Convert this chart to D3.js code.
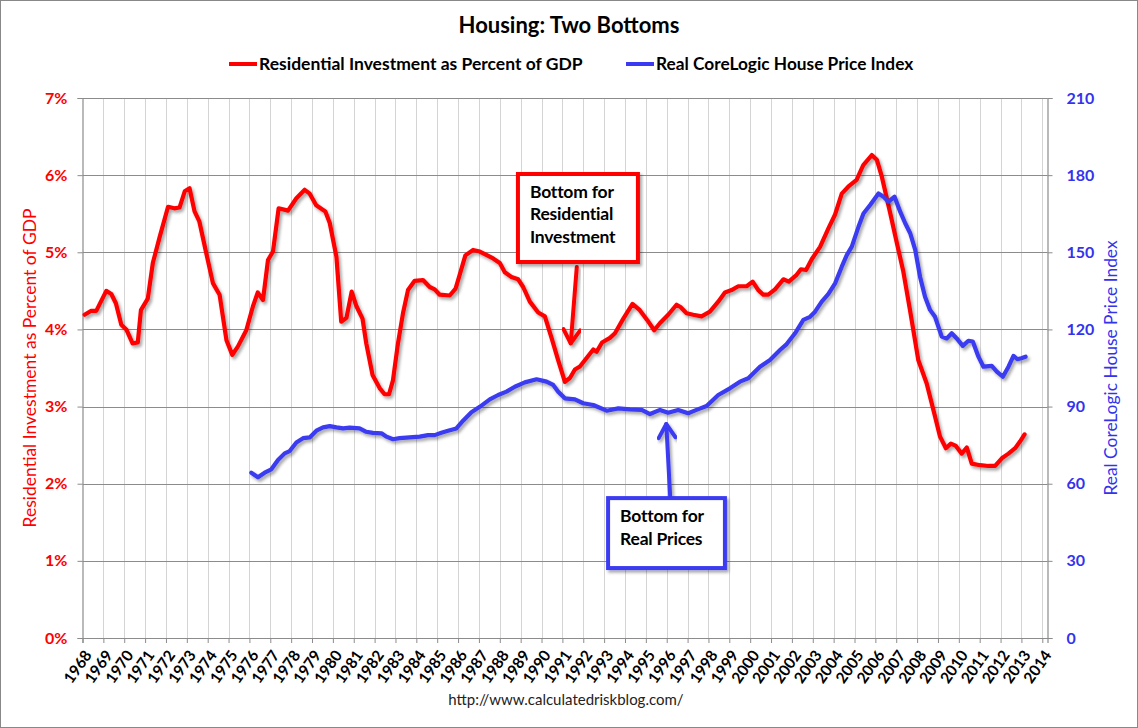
<!DOCTYPE html>
<html>
<head>
<meta charset="utf-8">
<script src="https://cdn.jsdelivr.net/npm/d3@7"></script>
<style>
  html, body { margin: 0; padding: 0; background: #fff; }
  svg { display: block; }
  text { font-family: Lato, "Open Sans", "Liberation Sans", sans-serif; }
</style>
</head>
<body>
<script>
// ---------------- DATA ----------------
const title = "Housing: Two Bottoms";
const seriesNames = ["Residential Investment as Percent of GDP", "Real CoreLogic House Price Index"];
const leftAxisTitle = "Residential Investment as Percent of GDP";
const rightAxisTitle = "Real CoreLogic House Price Index";
const sourceText = "http://www.calculatedriskblog.com/";

const yearTicks = d3.range(1968, 2015);
const leftTicks = [0, 1, 2, 3, 4, 5, 6, 7];
const rightTicks = [0, 30, 60, 90, 120, 150, 180, 210];

// Residential investment, % of GDP
const riYears = [1968.1,1968.4,1968.66,1969.14,1969.38,1969.6,1969.86,1970.1,1970.4,1970.65,1970.8,1971.13,1971.37,1971.7,1972.1,1972.4,1972.65,1972.9,1973.13,1973.37,1973.6,1973.93,1974.25,1974.57,1974.9,1975.18,1975.45,1975.85,1976.17,1976.4,1976.65,1976.89,1977.13,1977.4,1977.85,1978.25,1978.65,1978.89,1979.2,1979.64,1979.85,1980.17,1980.4,1980.65,1980.9,1981.13,1981.42,1981.6,1981.9,1982.24,1982.48,1982.69,1982.88,1983.12,1983.36,1983.6,1983.92,1984.32,1984.64,1984.88,1985.12,1985.6,1985.88,1986.08,1986.35,1986.72,1987.04,1987.4,1987.68,1988.0,1988.24,1988.56,1988.88,1989.12,1989.44,1989.84,1990.16,1990.48,1990.8,1991.12,1991.36,1991.6,1991.84,1992.16,1992.48,1992.64,1992.9,1993.28,1993.52,1993.92,1994.36,1994.71,1995.07,1995.4,1995.67,1996.07,1996.47,1996.66,1996.95,1997.27,1997.67,1998.07,1998.47,1998.79,1999.11,1999.43,1999.83,2000.12,2000.39,2000.63,2000.87,2001.19,2001.59,2001.85,2002.2,2002.43,2002.68,2002.95,2003.35,2003.75,2004.07,2004.39,2004.7,2005.1,2005.42,2005.83,2006.07,2006.31,2006.71,2007.03,2007.34,2007.66,2008.06,2008.46,2008.86,2009.1,2009.38,2009.62,2009.86,2010.14,2010.38,2010.62,2011.02,2011.42,2011.74,2012.06,2012.38,2012.7,2012.94,2013.15];
const riValues = [4.19,4.24,4.24,4.50,4.46,4.34,4.06,4.00,3.82,3.83,4.25,4.40,4.86,5.20,5.59,5.57,5.58,5.79,5.83,5.53,5.40,4.99,4.60,4.45,3.86,3.67,3.78,3.99,4.30,4.48,4.38,4.90,5.01,5.57,5.54,5.70,5.81,5.76,5.61,5.53,5.38,4.94,4.10,4.15,4.49,4.30,4.14,3.82,3.41,3.24,3.16,3.16,3.34,3.82,4.21,4.51,4.63,4.64,4.55,4.52,4.45,4.44,4.53,4.71,4.96,5.03,5.01,4.96,4.92,4.86,4.74,4.68,4.65,4.55,4.36,4.22,4.17,3.89,3.60,3.32,3.37,3.48,3.52,3.63,3.74,3.71,3.83,3.89,3.95,4.14,4.33,4.25,4.12,3.99,4.08,4.19,4.32,4.29,4.21,4.19,4.17,4.23,4.36,4.48,4.51,4.56,4.56,4.62,4.51,4.45,4.45,4.52,4.65,4.62,4.70,4.78,4.77,4.91,5.07,5.31,5.49,5.76,5.85,5.94,6.13,6.26,6.20,5.98,5.51,5.12,4.75,4.25,3.60,3.30,2.87,2.61,2.46,2.52,2.49,2.39,2.47,2.26,2.24,2.23,2.23,2.33,2.39,2.46,2.55,2.64];

// Real CoreLogic house price index
const hpYears = [1976.09,1976.41,1976.73,1977.05,1977.37,1977.69,1977.93,1978.25,1978.57,1978.89,1979.21,1979.53,1979.85,1980.17,1980.49,1980.8,1981.28,1981.6,1981.92,1982.33,1982.57,1982.88,1983.2,1983.68,1984.16,1984.56,1984.88,1985.2,1985.52,1985.92,1986.24,1986.64,1987.04,1987.52,1987.92,1988.32,1988.72,1989.2,1989.76,1990.24,1990.56,1990.8,1991.12,1991.6,1992.0,1992.48,1993.12,1993.68,1994.24,1994.8,1995.2,1995.68,1996.07,1996.55,1997.03,1997.43,1997.91,1998.47,1999.03,1999.51,1999.91,2000.47,2000.95,2001.43,2001.75,2002.15,2002.55,2002.87,2003.11,2003.43,2003.75,2004.07,2004.39,2004.63,2004.87,2005.19,2005.43,2005.75,2006.15,2006.39,2006.63,2006.92,2007.19,2007.43,2007.67,2007.91,2008.14,2008.38,2008.62,2008.86,2009.18,2009.42,2009.66,2009.9,2010.19,2010.46,2010.67,2010.94,2011.18,2011.58,2011.82,2012.11,2012.38,2012.62,2012.81,2012.99,2013.2];
const hpValues = [64.3,62.5,64.3,65.6,69.2,71.8,72.7,76.0,77.7,78.0,80.6,81.9,82.4,81.9,81.5,81.8,81.5,80.2,79.8,79.6,78.3,77.3,77.7,78.0,78.3,78.9,78.9,79.8,80.6,81.5,84.5,87.8,89.9,92.8,94.5,95.8,97.7,99.4,100.6,99.7,98.4,95.8,93.2,92.8,91.3,90.6,88.4,89.3,88.9,88.7,87.1,88.7,87.6,88.7,87.4,88.7,90.2,94.5,97.1,99.7,101.0,105.5,108.1,112.0,114.3,118.5,123.7,124.9,126.9,130.8,133.8,137.9,144.4,148.9,152.2,159.9,165.1,168.4,172.9,171.6,169.7,171.6,165.8,161.3,157.4,150.9,140.5,132.7,127.6,124.9,117.2,116.5,118.5,116.5,113.6,115.6,115.3,109.4,105.5,105.8,103.6,101.6,105.5,109.7,108.4,108.8,109.4];

// Annotations (in data coordinates)
const annoLabels = [["Bottom for", "Residential", "Investment"], ["Bottom for", "Real Prices"]];
const annoBoxX = [[1988.87, 1994.62], [1993.19, 1998.79]];
const annoBoxY = [[6.015, 4.874], [54.4, 27.2]];        // left axis units for first, right axis for second
const annoArrowX = [[1991.69, 1991.40], [1996.17, 1995.98]];
const annoArrowY = [[4.81, 3.82], [54.4, 83.2]];

// ---------------- CHART ----------------
const W = 1138, H = 728;
const RED = "#ff0000", BLUE = "#3a3af2", BLUE_TXT = "#3333ee";
const L = 82.5, R = 1047.5, T = 98, B = 638;

const svg = d3.select("body").append("svg").attr("width", W).attr("height", H);

const defs = svg.append("defs");
const f = defs.append("filter").attr("id", "shadow").attr("x", "-5%").attr("y", "-5%").attr("width", "110%").attr("height", "115%");
f.append("feDropShadow").attr("dx", 2).attr("dy", 2.5).attr("stdDeviation", 1.5)
  .attr("flood-color", "#000").attr("flood-opacity", 0.35);

svg.append("rect").attr("x", 0.5).attr("y", 0.5).attr("width", W - 1).attr("height", H - 1)
  .attr("fill", "#fff").attr("stroke", "#888").attr("stroke-width", 1);

const x = d3.scaleLinear().domain([1968, 2014.25]).range([L, R]);
const yL = d3.scaleLinear().domain([0, 7]).range([B, T]);
const yR = d3.scaleLinear().domain([0, 210]).range([B, T]);

// vertical gridlines
svg.append("g").selectAll("line").data(yearTicks.slice(1)).join("line")
  .attr("x1", d => Math.round(x(d)) + 0.5).attr("x2", d => Math.round(x(d)) + 0.5)
  .attr("y1", T).attr("y2", B)
  .attr("stroke", "#d4d4d4").attr("stroke-width", 1);

// horizontal gridlines
svg.append("g").selectAll("line").data(leftTicks.slice(1)).join("line")
  .attr("x1", L).attr("x2", R)
  .attr("y1", d => Math.round(yL(d)) + 0.5).attr("y2", d => Math.round(yL(d)) + 0.5)
  .attr("stroke", "#8c8c8c").attr("stroke-width", 1);

// axes
const axL = svg.append("g").attr("transform", `translate(${L},0)`)
  .call(d3.axisLeft(yL).tickValues(leftTicks).tickSize(5).tickPadding(10).tickFormat(d => d + "%"));
const axR = svg.append("g").attr("transform", `translate(${R},0)`)
  .call(d3.axisRight(yR).tickValues(rightTicks).tickSize(5).tickPadding(14).tickFormat(d3.format("d")));
const axB = svg.append("g").attr("transform", `translate(0,${B})`)
  .call(d3.axisBottom(x).tickValues(yearTicks).tickSize(5).tickFormat(d3.format("d")));

[axL, axR, axB].forEach(a => {
  a.select(".domain").attr("stroke", "#8c8c8c").attr("stroke-width", 1.2);
  a.selectAll(".tick line").attr("stroke", "#8c8c8c");
});
axL.selectAll("text").attr("fill", RED).attr("font-size", 16).attr("font-weight", 700)
  .attr("font-family", "Lato, sans-serif");
axR.selectAll("text").attr("fill", BLUE_TXT).attr("font-size", 16).attr("font-weight", 700)
  .attr("font-family", "Lato, sans-serif");
axB.selectAll("text").attr("fill", "#000").attr("font-size", 15.5).attr("font-weight", 700)
  .attr("font-family", "Lato, sans-serif")
  .attr("text-anchor", "end")
  .attr("dy", "0.35em")
  .attr("transform", "translate(5,14) rotate(-55)")
  .attr("y", 0).attr("x", 0);

// lines
const lineL = d3.line().x(d => x(d[0])).y(d => yL(d[1])).curve(d3.curveLinear);
const lineR = d3.line().x(d => x(d[0])).y(d => yR(d[1])).curve(d3.curveLinear);
const riData = riYears.map((yr, i) => [yr, riValues[i]]);
const hpData = hpYears.map((yr, i) => [yr, hpValues[i]]);

svg.append("path").datum(riData).attr("d", lineL)
  .attr("fill", "none").attr("stroke", RED).attr("stroke-width", 4.2)
  .attr("stroke-linejoin", "round").attr("stroke-linecap", "round")
  .attr("filter", "url(#shadow)");
svg.append("path").datum(hpData).attr("d", lineR)
  .attr("fill", "none").attr("stroke", BLUE).attr("stroke-width", 4.2)
  .attr("stroke-linejoin", "round").attr("stroke-linecap", "round")
  .attr("filter", "url(#shadow)");

// annotations
const annoColors = [RED, BLUE];
const annoScales = [yL, yR];
annoLabels.forEach((lines, i) => {
  const ys = annoScales[i];
  const c = annoColors[i];
  const g = svg.append("g");
  const x0 = x(annoBoxX[i][0]), x1 = x(annoBoxX[i][1]);
  const y0 = ys(annoBoxY[i][0]), y1 = ys(annoBoxY[i][1]);
  // arrow
  const ax0 = x(annoArrowX[i][0]), ay0 = ys(annoArrowY[i][0]);
  const ax1 = x(annoArrowX[i][1]), ay1 = ys(annoArrowY[i][1]);
  const ang = Math.atan2(ay1 - ay0, ax1 - ax0);
  const hl = 16, ha = 0.55;
  const p1 = [ax1 - hl * Math.cos(ang - ha), ay1 - hl * Math.sin(ang - ha)];
  const p2 = [ax1 - hl * Math.cos(ang + ha), ay1 - hl * Math.sin(ang + ha)];
  const ag = g.append("g").attr("filter", "url(#shadow)");
  ag.append("line").attr("x1", ax0).attr("y1", ay0).attr("x2", ax1).attr("y2", ay1)
    .attr("stroke", c).attr("stroke-width", 4).attr("stroke-linecap", "round");
  ag.append("path").attr("d", `M${p1[0]},${p1[1]} L${ax1},${ay1} L${p2[0]},${p2[1]}`)
    .attr("fill", "none").attr("stroke", c).attr("stroke-width", 4)
    .attr("stroke-linecap", "round").attr("stroke-linejoin", "round");
  // box
  g.append("rect").attr("x", x0).attr("y", y0).attr("width", x1 - x0).attr("height", y1 - y0)
    .attr("fill", "#fff").attr("stroke", c).attr("stroke-width", 4)
    .attr("filter", "url(#shadow)");
  lines.forEach((t, j) => {
    g.append("text").attr("x", x0 + 12).attr("y", y0 + 24 + j * 22.5)
      .attr("font-size", 17.5).attr("font-weight", 700).attr("fill", "#000")
      .attr("font-family", "'Open Sans', sans-serif")
      .attr("letter-spacing", -0.2)
      .text(t);
  });
});

// title
svg.append("text").attr("x", 569).attr("y", 33).attr("text-anchor", "middle")
  .attr("font-size", 22).attr("font-weight", 700).attr("fill", "#000").text(title);

// legend
const legColors = [RED, BLUE];
const legX = [229, 626];
const legFont = [17.5, 17.3];
seriesNames.forEach((n, i) => {
  const g = svg.append("g").attr("transform", `translate(${legX[i]},64)`);
  g.append("line").attr("x1", 0).attr("x2", 28).attr("y1", 0).attr("y2", 0)
    .attr("stroke", legColors[i]).attr("stroke-width", 4);
  g.append("text").attr("x", 30).attr("y", 0).attr("dy", "0.35em")
    .attr("font-size", legFont[i]).attr("font-weight", 700).attr("fill", "#000").text(n);
});

// axis titles
svg.append("text").attr("transform", `translate(36,${(T + B) / 2}) rotate(-90)`)
  .attr("text-anchor", "middle").attr("font-size", 17.5).attr("fill", RED).text(leftAxisTitle);
svg.append("text").attr("transform", `translate(1117,${(T + B) / 2}) rotate(-90)`)
  .attr("text-anchor", "middle").attr("font-size", 17.4).attr("fill", BLUE_TXT).text(rightAxisTitle);

// source
svg.append("text").attr("x", 566).attr("y", 705).attr("text-anchor", "middle")
  .attr("font-size", 15).attr("fill", "#222").text(sourceText);
</script>
</body>
</html>
